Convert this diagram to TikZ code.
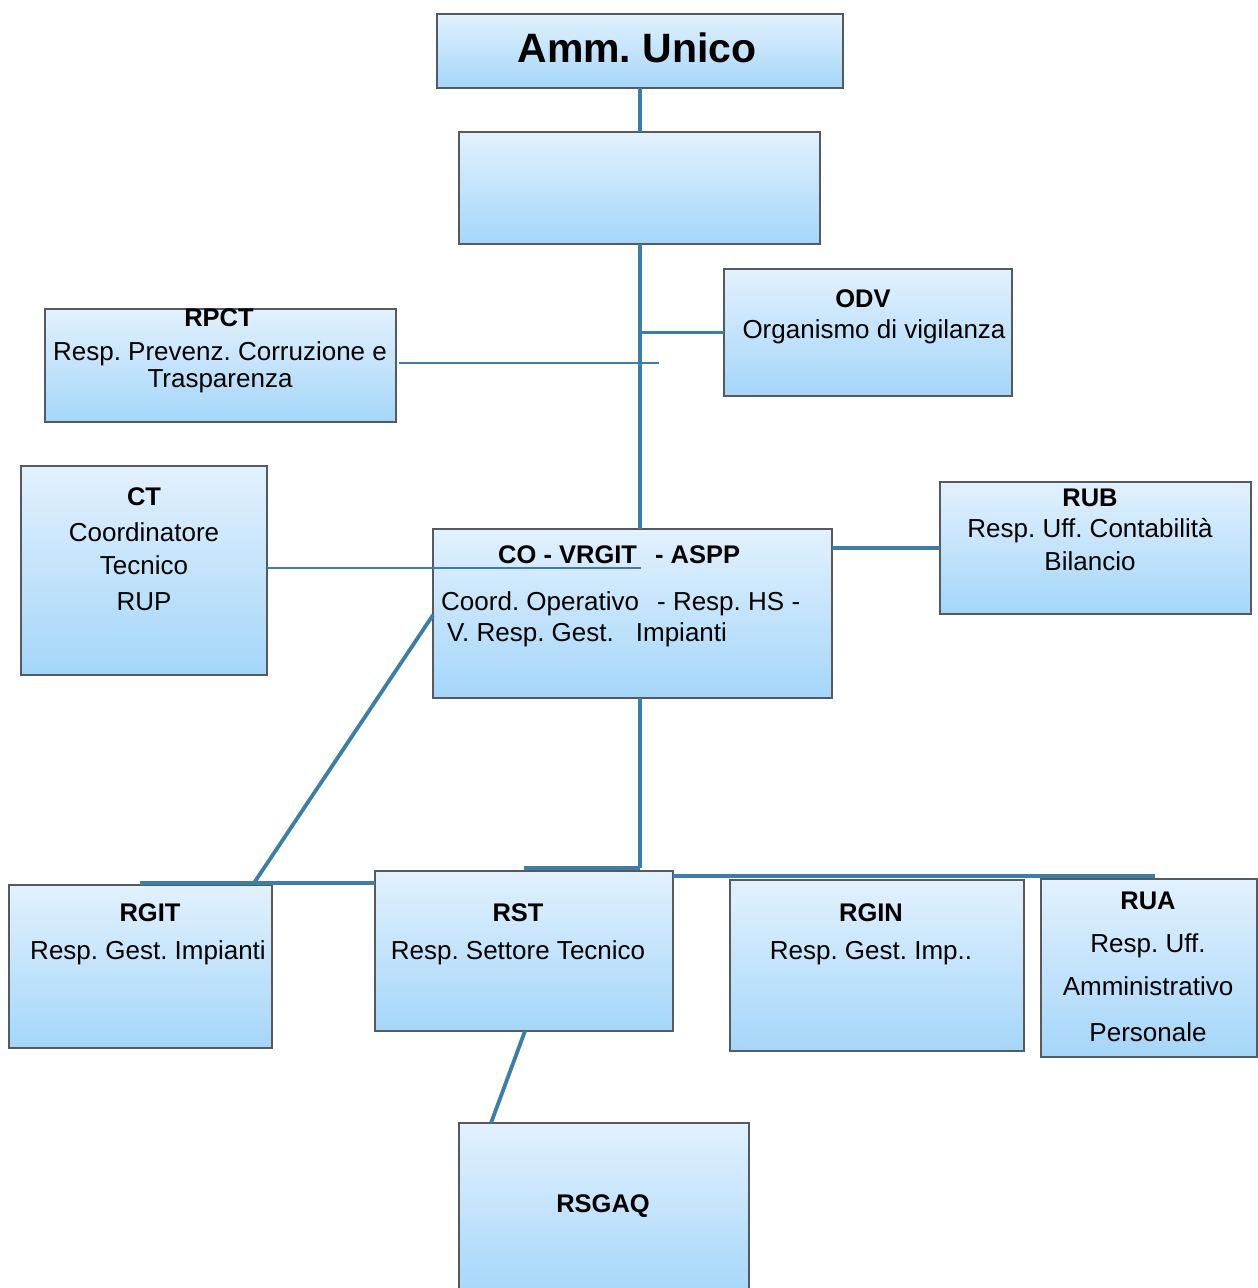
\documentclass[tikz,border=0pt]{standalone}
\usepackage{fontspec}
\setmainfont{Liberation Sans}
\definecolor{boxtop}{RGB}{226,241,253}
\definecolor{boxbot}{RGB}{164,214,249}
\definecolor{linkc}{RGB}{60,126,166}
\definecolor{edgec}{RGB}{85,90,95}
\frenchspacing
\begin{document}
\begin{tikzpicture}[x=1pt,y=-1pt,
  box/.style={draw=edgec, line width=1.3pt, top color=boxtop, bottom color=boxbot,
    inner sep=0pt, outer sep=0pt, anchor=north west},
  thicklink/.style={draw=linkc, line width=4.5pt},
  midlink/.style={draw=linkc, line width=3.8pt},
  thinlink/.style={draw=linkc, line width=2.3pt},
  txt/.style={anchor=base, inner sep=0pt, font=\fontsize{26}{30}\selectfont},
  hd/.style={anchor=base, inner sep=0pt, font=\fontsize{25.5}{30}\selectfont\bfseries},
  ltxt/.style={anchor=base west, inner sep=0pt, font=\fontsize{26}{30}\selectfont}]
\useasboundingbox (0,0) rectangle (1258,1288);
\fill[white] (0,0) rectangle (1258,1288);

% boxes
\node[box, minimum width=406pt, minimum height=74pt] (amm) at (437,14) {};
\node[box, minimum width=361pt, minimum height=112pt] (b2) at (459,132) {};
\node[box, minimum width=288pt, minimum height=127pt] (odv) at (724,269) {};
\node[box, minimum width=351pt, minimum height=113pt] (rpct) at (45,309) {};
\node[box, minimum width=246pt, minimum height=209pt] (ct) at (21,466) {};
\node[box, minimum width=399pt, minimum height=169pt] (co) at (433,529) {};
\node[box, minimum width=311pt, minimum height=132pt] (rub) at (940,482) {};
\node[box, minimum width=263pt, minimum height=163pt] (rgit) at (9,885) {};
\node[box, minimum width=298pt, minimum height=160pt] (rst) at (375,871) {};
\node[box, minimum width=294pt, minimum height=171pt] (rgin) at (730,880) {};
\node[box, minimum width=216pt, minimum height=178pt] (rua) at (1041,879) {};
\node[box, minimum width=290pt, minimum height=175pt] (rsgaq) at (459,1123) {};

% junction coordinates
\coordinate (spine) at (640,0);
\coordinate (rpctend) at (659,363);
\coordinate (ctend) at (641,568);
\coordinate (j1) at (640,868);
\coordinate (j2) at (524,868);
\coordinate (j3) at (640,876);
\coordinate (j4) at (1155,876);
\coordinate (g1) at (140,883);
\coordinate (g2) at (375,883);
\coordinate (d1) at (254,883);

% connectors
\draw[thicklink] (amm.south -| spine) -- (b2.north -| spine);
\draw[thicklink] (b2.south -| spine) -- (co.north -| spine);
\draw[thinlink] (odv.west -| spine) -- (odv.west);
\draw[thinlink] ([xshift=3pt]rpct.east |- rpctend) -- (rpctend);
\draw[thinlink] (ct.east |- ctend) -- (ctend);
\draw[midlink] (co.east |- rub.west) -- (rub.west);
\draw[thicklink] (co.south -| spine) -- (j1);
\draw[thicklink] (j1) -- (j2);
\draw[thicklink] (rst.east |- j3) -- (j4);
\draw[thicklink] (g1) -- (g2);
\draw[midlink] (co.west |- 0,615) -- (d1);
\draw[midlink] ([xshift=1pt]rst.south) -- ([xshift=-113pt]rsgaq.north);

% texts
\node[anchor=base, inner sep=0pt, font=\fontsize{41}{48}\selectfont\bfseries] (tamm) at (637,62) {Amm. Unico};

\node[hd] (trpct) at (219,326) {RPCT};
\node[txt] (trpct1) at (220,360) {Resp. Prevenz. Corruzione e};
\node[txt] (trpct2) at (220,387) {Trasparenza};

\node[hd] (todv) at (863,307) {ODV};
\node[txt] (todv1) at (874,338) {Organismo di vigilanza};

\node[hd] (tct) at (144,505) {CT};
\node[txt] (tct1) at (144,541) {Coordinatore};
\node[txt] (tct2) at (144,574) {Tecnico};
\node[txt] (tct3) at (144,610) {RUP};

\node[hd] (trub) at (1090,506) {RUB};
\node[txt] (trub1) at (1090,537) {Resp. Uff. Contabilità};
\node[txt] (trub2) at (1090,570) {Bilancio};

\node[hd, anchor=base west] (tco) at (498,563) {CO - VRGIT\hspace{18pt}- ASPP};
\node[ltxt] (tco1) at (441,610) {Coord. Operativo\hspace{18pt}- Resp. HS -};
\node[ltxt] (tco2) at (447,641) {V. Resp. Gest.\hspace{22pt}Impianti};

\node[hd] (trgit) at (150,921) {RGIT};
\node[txt] (trgit1) at (148,959) {Resp. Gest. Impianti};

\node[hd] (trst) at (518,921) {RST};
\node[txt] (trst1) at (518,959) {Resp. Settore Tecnico};

\node[hd] (trgin) at (871,921) {RGIN};
\node[txt] (trgin1) at (871,959) {Resp. Gest. Imp..};

\node[hd] (trua) at (1148,909) {RUA};
\node[txt] (trua1) at (1148,952) {Resp. Uff.};
\node[txt] (trua2) at (1148,995) {Amministrativo};
\node[txt] (trua3) at (1148,1041) {Personale};

\node[hd] (trsgaq) at (603,1212) {RSGAQ};
\end{tikzpicture}
\end{document}
